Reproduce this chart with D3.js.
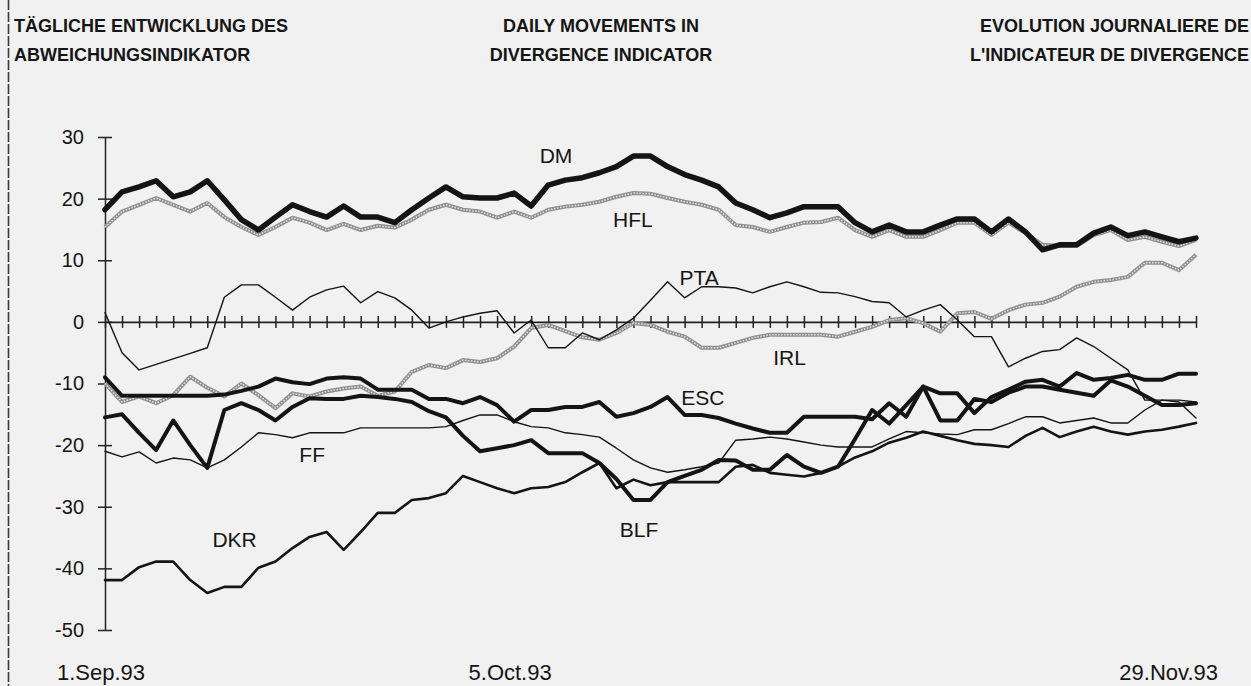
<!DOCTYPE html>
<html>
<head>
<meta charset="utf-8">
<script src="https://cdn.jsdelivr.net/npm/d3@7"></script>
<style>
  html, body { margin: 0; padding: 0; background: #f1f1f1; }
  svg { display: block; font-family: "Liberation Sans", Arial, Helvetica, sans-serif; }
</style>
</head>
<body>
<svg id="chart" width="1251" height="686"></svg>
<script>
// Daily divergence indicator values, one per trading day, 1 Sep 1993 – 29 Nov 1993
const dm  = [18.2, 21.1, 21.9, 22.9, 20.3, 21.1, 22.9, 19.8, 16.6, 14.9, 17, 19, 17.9, 17, 18.8, 17, 17, 16.1, 18.2, 20.1, 21.9, 20.3, 20.1, 20.1, 20.9, 18.8, 22.2, 23, 23.4, 24.2, 25.2, 26.9, 26.9, 25.2, 23.9, 23, 21.9, 19.3, 18.2, 16.9, 17.7, 18.7, 18.7, 18.7, 16.1, 14.6, 15.7, 14.6, 14.6, 15.7, 16.7, 16.7, 14.6, 16.7, 14.6, 11.7, 12.5, 12.5, 14.4, 15.4, 14, 14.6, 13.8, 13, 13.6];
const hfl = [15.4, 17.9, 19, 20.1, 19, 17.9, 19.3, 17, 15.4, 14.1, 15.4, 16.9, 16.1, 14.9, 15.9, 14.9, 15.6, 15.3, 16.6, 18.2, 19, 18.2, 17.9, 16.9, 17.9, 16.9, 18.2, 18.7, 19, 19.5, 20.3, 20.9, 20.8, 20.1, 19.5, 19, 18.2, 15.7, 15.4, 14.6, 15.4, 16.1, 16.2, 16.9, 14.9, 13.8, 14.9, 13.8, 13.8, 14.9, 16.1, 16.1, 14.1, 16.1, 14.4, 12.5, 12.3, 12.3, 14.1, 14.9, 13.3, 13.8, 13, 12.3, 13.3];
const pta = [1.5, -5, -7.8, -6.9, -6, -5.1, -4.2, 4, 6, 6, 4, 1.9, 4, 5.2, 5.8, 3.1, 4.9, 3.9, 1.9, -1, 0, 0.8, 1.4, 1.8, -1.8, 0.3, -4.2, -4.2, -1.8, -2.9, -1.3, 0.6, 3.5, 6.5, 3.9, 5.7, 5.7, 5.5, 4.7, 5.7, 6.5, 5.7, 4.8, 4.7, 4.1, 3.3, 3.1, 0.8, 1.9, 2.8, 0.3, -2.4, -2.4, -7.3, -5.9, -4.8, -4.5, -2.6, -4, -5.9, -7.8, -12.7, -12.7, -13, -15.6];
const irl = [-10, -13, -12.1, -13.2, -11.9, -8.9, -10.7, -12.1, -10, -11.9, -14, -11.6, -12.1, -11.3, -10.8, -10.5, -12, -11.3, -8.1, -7, -7.5, -6.2, -6.5, -5.9, -4, -1, -0.5, -1.5, -2.5, -2.9, -1.8, -0.2, -0.5, -1.6, -2.4, -4.2, -4.2, -3.4, -2.6, -2.1, -2.1, -2.1, -2.1, -2.4, -1.6, -0.8, 0.3, 0.6, -0.2, -1.6, 1.4, 1.6, 0.5, 1.9, 2.8, 3.1, 4.1, 5.7, 6.5, 6.8, 7.3, 9.6, 9.6, 8.4, 10.9];
const esc = [-9, -12, -12, -12, -12, -12, -12, -11.8, -11.2, -10.5, -9.2, -9.8, -10.1, -9.2, -9, -9.2, -11, -11, -11, -12.5, -12.5, -13.2, -12.2, -13.5, -16.2, -14.3, -14.3, -13.8, -13.8, -13, -15.4, -14.8, -13.8, -12.2, -15.1, -15.1, -15.6, -16.5, -17.3, -18, -18, -15.4, -15.4, -15.4, -15.4, -15.8, -13.2, -15.4, -10.5, -11.6, -11.6, -14.8, -12.2, -11, -9.7, -9.4, -10.5, -8.3, -9.4, -9.1, -8.6, -9.4, -9.4, -8.4, -8.4];
const blf = [-15.5, -15, -18, -20.8, -16, -20, -23.7, -14.3, -13.2, -14.3, -16, -13.8, -12.4, -12.5, -12.5, -12, -12.2, -12.5, -13, -14.5, -15.5, -18.5, -21, -20.5, -20, -19.2, -21.3, -21.3, -21.3, -22.9, -25.5, -28.9, -28.9, -26, -25, -24, -22.4, -22.5, -24, -24, -21.6, -23.5, -24.5, -23.5, -19, -14.3, -16.5, -13.5, -10.5, -16, -16, -12.5, -13, -11.5, -10.5, -10.5, -11, -11.5, -12, -9.5, -10.5, -12, -13.5, -13.5, -13.2];
const ff  = [-21, -21.9, -21.1, -22.9, -22.1, -22.4, -23.7, -22.4, -20.3, -18, -18.3, -18.8, -18, -18, -18, -17.2, -17.2, -17.2, -17.2, -17.2, -17, -16, -15.1, -15.1, -16.2, -17, -17.2, -18, -18.3, -18.7, -20.5, -22.4, -23.7, -24.4, -24, -23.5, -22.9, -19.2, -19, -18.7, -19, -19.5, -20, -20.3, -20.3, -20.3, -19, -17.8, -18, -18.2, -18.3, -17.5, -17.5, -16.5, -15.4, -15.4, -16.4, -16, -15.6, -16.4, -16.4, -14.3, -12.7, -12.7, -13];
const dkr = [-41.9, -41.9, -39.8, -38.9, -38.9, -41.9, -44, -43, -43, -39.9, -38.9, -36.7, -34.9, -34.1, -37, -34.1, -31, -31, -28.9, -28.6, -27.8, -25, -26, -27, -27.8, -27, -26.8, -26, -24.4, -22.9, -27, -25.6, -26.5, -26, -26, -26, -26, -23.5, -23.2, -24.5, -24.8, -25.1, -24.5, -23.5, -22, -21, -19.6, -18.8, -17.8, -18.5, -19.2, -19.8, -20, -20.3, -18.5, -17.2, -18.7, -17.8, -17, -17.8, -18.3, -17.8, -17.5, -17, -16.4];

const yTicks = [30, 20, 10, 0, -10, -20, -30, -40, -50];
const dateLabels = ["1.Sep.93", "5.Oct.93", "29.Nov.93"];
const dateIndex  = [0, 24, 64];

const titleLeft   = ["TÄGLICHE ENTWICKLUNG DES", "ABWEICHUNGSINDIKATOR"];
const titleCenter = ["DAILY MOVEMENTS IN", "DIVERGENCE INDICATOR"];
const titleRight  = ["EVOLUTION JOURNALIERE DE", "L'INDICATEUR DE DIVERGENCE"];

// series name, values, line style, and where its name sits (day index, indicator value)
const seriesNames  = ["HFL", "IRL", "DKR", "FF", "PTA", "BLF", "ESC", "DM"];
const seriesValues = [hfl, irl, dkr, ff, pta, blf, esc, dm];
const seriesStyle  = ["hatch", "hatch", "medium", "thin", "thin", "thick", "thick", "heavy"];
const labelDay     = [29.8, 39.2, 6.3, 11.4, 33.7, 30.2, 33.8, 25.5];
const labelValue   = [15.4, -7.0, -36.5, -22.7, 6.0, -34.9, -13.5, 25.8];

const svg = d3.select("#chart");
const W = 1251, H = 686;
const margin = { left: 105, right: 55, top: 137, bottom: 56 };

const x = d3.scaleLinear().domain([0, dm.length - 1]).range([margin.left, W - margin.right]);
const y = d3.scaleLinear().domain([-50, 30]).range([H - margin.bottom, margin.top]);

// page background and the left border rule
svg.append("rect").attr("width", W).attr("height", H).attr("fill", "#f1f1f1");
svg.append("line")
  .attr("x1", 8.5).attr("x2", 8.5).attr("y1", 0).attr("y2", H)
  .attr("stroke", "#3a3a3a").attr("stroke-width", 1.6).attr("stroke-dasharray", "10 2");

// three-language heading
const titleFont = { size: 18, weight: "bold" };
function titleBlock(lines, tx, anchor) {
  svg.append("g").selectAll("text").data(lines).join("text")
    .attr("x", tx).attr("y", (d, i) => 32 + i * 29)
    .attr("text-anchor", anchor)
    .attr("font-size", titleFont.size).attr("font-weight", titleFont.weight)
    .attr("fill", "#151515")
    .text(d => d);
}
titleBlock(titleLeft, 14, "start");
titleBlock(titleCenter, 601, "middle");
titleBlock(titleRight, 1249, "end");

// y axis with crossing ticks
const yAxis = svg.append("g")
  .attr("transform", `translate(${margin.left},0)`)
  .call(d3.axisLeft(y).tickValues(yTicks).tickSizeInner(7).tickSizeOuter(0).tickPadding(14).tickFormat(d3.format("d")));
yAxis.select(".domain").attr("stroke", "#222").attr("stroke-width", 1.5);
yAxis.selectAll(".tick line").attr("x1", -7).attr("x2", 7).attr("stroke", "#222").attr("stroke-width", 1.5);
yAxis.selectAll(".tick text")
  .attr("font-size", 20).attr("fill", "#151515")
  .attr("font-family", "Liberation Sans, Arial, sans-serif")
  .text(d => d < 0 ? "-" + Math.abs(d) : d);

// zero line with one tick per trading day
const xAxis = svg.append("g")
  .attr("transform", `translate(0,${y(0)})`)
  .call(d3.axisBottom(x).tickValues(d3.range(dm.length)).tickSizeOuter(0).tickFormat(""));
xAxis.select(".domain").attr("stroke", "#222").attr("stroke-width", 1.6);
xAxis.selectAll(".tick line").attr("y1", -6).attr("y2", 6).attr("stroke", "#222").attr("stroke-width", 1.5);

// date labels under the plot
svg.append("g").selectAll("text").data(dateLabels).join("text")
  .attr("x", (d, i) => x(dateIndex[i]))
  .attr("dx", (d, i) => i === 0 ? -4 : (i === dateLabels.length - 1 ? 22 : -4))
  .attr("y", 680)
  .attr("text-anchor", (d, i) => i === dateLabels.length - 1 ? "end" : "middle")
  .attr("font-size", 22).attr("fill", "#151515")
  .text(d => d);

// the currency lines
const line = d3.line().x((d, i) => x(i)).y(d => y(d)).curve(d3.curveLinear);
const plot = svg.append("g");
seriesNames.forEach((name, k) => {
  const vals = seriesValues[k];
  const style = seriesStyle[k];
  if (style === "hatch") {
    plot.append("path").datum(vals).attr("d", line)
      .attr("fill", "none").attr("stroke", "#8f8f8f").attr("stroke-width", 4)
      .attr("stroke-linejoin", "round");
    plot.append("path").datum(vals).attr("d", line)
      .attr("fill", "none").attr("stroke", "#e4e4e4").attr("stroke-width", 1.5)
      .attr("stroke-dasharray", "1.5 1.5");
  } else {
    const widths = { thin: 1.4, medium: 2.6, thick: 4, heavy: 5.5 };
    plot.append("path").datum(vals).attr("d", line)
      .attr("fill", "none").attr("stroke", "#141414")
      .attr("stroke-width", widths[style])
      .attr("stroke-linejoin", "round").attr("stroke-linecap", "round");
  }
});

// series names
svg.append("g").selectAll("text").data(seriesNames).join("text")
  .attr("x", (d, i) => x(labelDay[i]))
  .attr("y", (d, i) => y(labelValue[i]))
  .attr("font-size", 21).attr("fill", "#151515")
  .text(d => d);
</script>
</body>
</html>
